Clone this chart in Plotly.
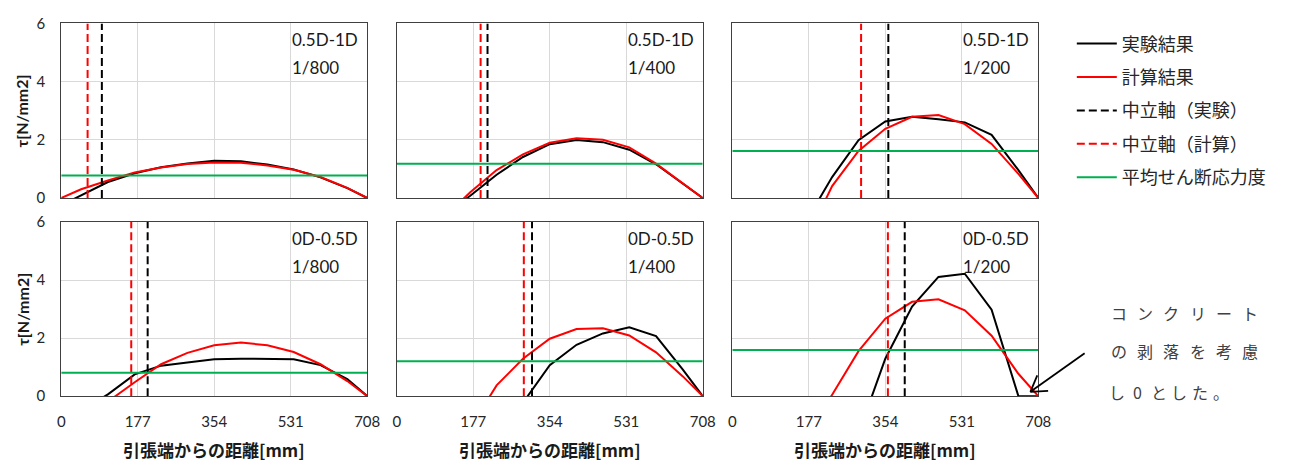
import plotly.graph_objects as go

# Gauge positions measured from the tension edge [mm]
X_MM = [0, 46, 108, 170, 231, 292, 354, 416, 477, 538, 600, 662, 708]

# Shear stress tau [N/mm2] along the section; None = no reading
UPPER_800_EXP = [-0.25, 0.10, 0.55, 0.85, 1.06, 1.19, 1.28, 1.26, 1.15, 0.98, 0.71, 0.34, 0]
UPPER_800_CALC = [0, 0.30, 0.60, 0.88, 1.05, 1.17, 1.22, 1.21, 1.12, 0.97, 0.72, 0.35, 0]
UPPER_400_EXP = [None, None, -0.60, 0.08, 0.80, 1.41, 1.85, 1.99, 1.92, 1.66, 1.16, 0.49, 0]
UPPER_400_CALC = [None, None, -0.69, 0.20, 0.96, 1.50, 1.90, 2.05, 2.00, 1.74, 1.18, 0.49, 0]
UPPER_200_EXP = [None, None, None, -0.82, 0.72, 1.99, 2.63, 2.79, 2.71, 2.60, 2.17, 0.96, 0]
UPPER_200_CALC = [None, None, None, -1.47, 0.41, 1.62, 2.38, 2.79, 2.85, 2.54, 1.86, 0.83, 0]
LOWER_800_EXP = [None, -0.50, 0.06, 0.75, 1.05, 1.16, 1.27, 1.29, 1.29, 1.27, 1.07, 0.59, 0]
LOWER_800_CALC = [None, None, -0.19, 0.48, 1.10, 1.49, 1.75, 1.85, 1.75, 1.52, 1.10, 0.52, 0]
LOWER_400_EXP = [None, None, None, None, None, -0.23, 1.07, 1.77, 2.16, 2.37, 2.07, 0.91, 0]
LOWER_400_CALC = [None, None, None, -1.09, 0.37, 1.29, 1.98, 2.31, 2.34, 2.09, 1.51, 0.68, 0]
LOWER_200_EXP = [None, None, None, None, None, -1.29, 1.29, 3.09, 4.11, 4.22, 2.98, 0, 0]
LOWER_200_CALC = [None, None, None, -1.40, 0.05, 1.55, 2.67, 3.25, 3.34, 2.96, 2.08, 0.77, 0]

SECTIONS = ["0.5D-1D", "0.5D-1D", "0.5D-1D", "0D-0.5D", "0D-0.5D", "0D-0.5D"]
DRIFTS = ["1/800", "1/400", "1/200", "1/800", "1/400", "1/200"]
NEUTRAL_EXP = [94, 210, 361, 200, 313, 399]      # neutral axis, test [mm]
NEUTRAL_CALC = [61, 194, 298, 162, 294, 360]     # neutral axis, analysis [mm]
MEAN_TAU = [0.77, 1.18, 1.62, 0.81, 1.20, 1.59]  # average shear stress

X_TICKS = [0, 177, 354, 531, 708]
Y_TICKS = [0, 2, 4, 6]
X_RANGE = [0, 708]
Y_RANGE = [0, 6]

NAMES = ["実験結果", "計算結果", "中立軸（実験）", "中立軸（計算）", "平均せん断応力度"]
X_TITLE = "引張端からの距離[mm]"
Y_TITLE = "τ[N/mm2]"
NOTE_LINES = ["コンクリート", "の剥落を考慮", "し0とした。"]

EXP_SERIES = [UPPER_800_EXP, UPPER_400_EXP, UPPER_200_EXP, LOWER_800_EXP, LOWER_400_EXP, LOWER_200_EXP]
CALC_SERIES = [UPPER_800_CALC, UPPER_400_CALC, UPPER_200_CALC, LOWER_800_CALC, LOWER_400_CALC, LOWER_200_CALC]

W, H = 1297, 470
LATIN = "Lato, Noto Sans CJK JP, sans-serif"
CJK = "Noto Sans CJK JP, sans-serif"
BLACK, RED, GREEN = "#000000", "#FF0000", "#00B050"


def px_x(p):
    return p / W


def px_y(p):
    return 1 - p / H


COL_PX = [(58, 368), (398, 708), (738, 1048)]
ROW_PX = [(14, 195.5), (220.5, 401.5)]

fig = go.Figure()
layout = {}

for i in range(6):
    row, col = divmod(i, 3)
    suffix = "" if i == 0 else str(i + 1)
    xa, ya = "x" + suffix, "y" + suffix
    first = i == 0

    exp, calc = EXP_SERIES[i], CALC_SERIES[i]
    fig.add_trace(go.Scatter(x=X_MM, y=exp, mode="lines", name=NAMES[0],
                             line=dict(color=BLACK, width=2), xaxis=xa, yaxis=ya,
                             legendgroup="g0", showlegend=first))
    fig.add_trace(go.Scatter(x=X_MM, y=calc, mode="lines", name=NAMES[1],
                             line=dict(color=RED, width=2), xaxis=xa, yaxis=ya,
                             legendgroup="g1", showlegend=first))
    fig.add_trace(go.Scatter(x=[NEUTRAL_EXP[i]] * 2, y=Y_RANGE, mode="lines", name=NAMES[2],
                             line=dict(color=BLACK, width=2, dash="8px,4px"), xaxis=xa, yaxis=ya,
                             legendgroup="g2", showlegend=first))
    fig.add_trace(go.Scatter(x=[NEUTRAL_CALC[i]] * 2, y=Y_RANGE, mode="lines", name=NAMES[3],
                             line=dict(color=RED, width=2, dash="8px,4px"), xaxis=xa, yaxis=ya,
                             legendgroup="g3", showlegend=first))
    fig.add_trace(go.Scatter(x=X_RANGE, y=[MEAN_TAU[i]] * 2, mode="lines", name=NAMES[4],
                             line=dict(color=GREEN, width=2), xaxis=xa, yaxis=ya,
                             legendgroup="g4", showlegend=first))

    x0, x1 = COL_PX[col]
    y0, y1 = ROW_PX[row]
    axis_common = dict(showgrid=True, gridcolor="#D9D9D9", gridwidth=1, zeroline=False,
                       showline=True, mirror=True, linecolor="#404040", linewidth=1.3,
                       ticks="", tickfont=dict(family=LATIN, size=15, color="#262626"))
    layout["xaxis" + suffix] = dict(axis_common, domain=[px_x(x0), px_x(x1)], range=X_RANGE,
                                    tickmode="array", tickvals=X_TICKS, anchor=ya,
                                    showticklabels=row == 1, ticklabelstandoff=12)
    layout["yaxis" + suffix] = dict(axis_common, domain=[px_y(y1), px_y(y0)], range=Y_RANGE,
                                    tickmode="array", tickvals=Y_TICKS, anchor=xa,
                                    showticklabels=col == 0, ticklabelstandoff=12)

annotations = []
for i in range(6):
    suffix = "" if i == 0 else str(i + 1)
    for text, yv in ((SECTIONS[i], 5.45), (DRIFTS[i], 4.48)):
        annotations.append(dict(x=530, y=yv, xref="x" + suffix, yref="y" + suffix,
                                text=text, showarrow=False, xanchor="left", yanchor="middle",
                                font=dict(family=LATIN, size=17, color="#1a1a1a")))

for y0, y1 in ROW_PX:
    annotations.append(dict(x=px_x(18), y=px_y((y0 + y1) / 2), xref="paper", yref="paper",
                            text="<b>" + Y_TITLE + "</b>", textangle=-90, showarrow=False,
                            xanchor="center", yanchor="middle",
                            font=dict(family=LATIN, size=16, color="#1a1a1a")))
for x0, x1 in COL_PX:
    annotations.append(dict(x=px_x((x0 + x1) / 2), y=px_y(457), xref="paper", yref="paper",
                            text="<b>" + X_TITLE + "</b>", showarrow=False,
                            xanchor="center", yanchor="middle",
                            font=dict(family=CJK, size=17, color="#1a1a1a")))

# Side note, spaced out character by character
note_layout = [(1130, 26.5, 315), (1130, 26.5, 355), (1128, 21, 397)]
for line, (start, pitch, yc) in zip(NOTE_LINES, note_layout):
    for k, ch in enumerate(line):
        annotations.append(dict(x=px_x(start + k * pitch), y=px_y(yc), xref="paper", yref="paper",
                                text=ch, showarrow=False, xanchor="center", yanchor="middle",
                                font=dict(family=CJK, size=16, color="#404040")))

# Pointer from the note to the zeroed end of the curve
tail, head = (1095, 357), (1040, 397)
wing_a, wing_b = (1047, 380), (1058, 396)
shapes = []
for a, b in ((tail, head), (head, wing_a), (head, wing_b)):
    shapes.append(dict(type="line", xref="paper", yref="paper",
                       x0=px_x(a[0]), y0=px_y(a[1]), x1=px_x(b[0]), y1=px_y(b[1]),
                       line=dict(color="#000000", width=1.8)))

fig.update_layout(
    width=W, height=H,
    margin=dict(l=0, r=0, t=0, b=0),
    paper_bgcolor="white", plot_bgcolor="white",
    showlegend=True,
    legend=dict(x=px_x(1082), y=px_y(16), xanchor="left", yanchor="top",
                traceorder="grouped", tracegroupgap=7, itemwidth=40,
                font=dict(family=CJK, size=18, color="#262626"),
                bgcolor="rgba(0,0,0,0)"),
    annotations=annotations,
    shapes=shapes,
    **layout,
)

fig.write_html("out.html")
